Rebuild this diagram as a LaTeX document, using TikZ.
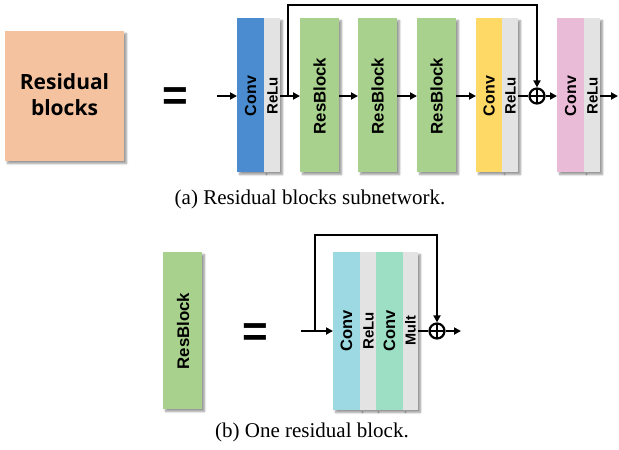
\documentclass[tikz,border=0pt]{standalone}
\usepackage{fontspec}
\setmainfont{Liberation Serif}
\newfontfamily\blkfont{Liberation Sans}
\newfontfamily\titlefont{Open Sans}
\usetikzlibrary{arrows.meta,shadows.blur}

\definecolor{cblue}{HTML}{4A8CCF}
\definecolor{cgray}{HTML}{E3E3E3}
\definecolor{cgreen}{HTML}{A8D18D}
\definecolor{cyellow}{HTML}{FFD966}
\definecolor{cpink}{HTML}{E9BBD6}
\definecolor{ccyan}{HTML}{9DD9E3}
\definecolor{cteal}{HTML}{9DDFC4}
\definecolor{cpeach}{HTML}{F4C29F}

\tikzset{
  blk/.style={draw=none, inner sep=0pt, outer sep=0pt,
    blur shadow={shadow xshift=2.5pt, shadow yshift=-2.5pt, shadow blur steps=6, shadow opacity=40}},
  vtext/.style={rotate=90, font=\blkfont\bfseries\fontsize{16}{16}\selectfont, inner sep=0pt},
  vsmall/.style={rotate=90, font=\blkfont\bfseries\fontsize{15}{15}\selectfont, inner sep=0pt},
  vbig/.style={rotate=90, font=\blkfont\bfseries\fontsize{16.8}{16.8}\selectfont, inner sep=0pt},
  flow/.style={line width=2.2pt, -{Triangle[length=7pt,width=7pt]}},
  skip/.style={line width=2.2pt},
  sumnode/.style={circle, draw, line width=2.2pt, minimum size=15pt, inner sep=0pt, fill=white,
    path picture={\draw[line width=2.2pt]
      (path picture bounding box.north) -- (path picture bounding box.south)
      (path picture bounding box.west) -- (path picture bounding box.east);}},
  eqsign/.style={font=\blkfont\bfseries\fontsize{44}{44}\selectfont, inner sep=0pt},
  caption/.style={font=\fontsize{21}{21}\selectfont, inner sep=0pt}
}

\begin{document}
\begin{tikzpicture}[x=1pt, y=-1pt]
\useasboundingbox (0,0) rectangle (619,450);

% ---------- (a) Residual blocks subnetwork ----------
\node[blk, fill=cpeach, minimum width=119pt, minimum height=130pt] (rb) at (64.5,96) {};
\node[font=\titlefont\bfseries\fontsize{21}{26}\selectfont, align=center, inner sep=0pt] (rbtxt) at (64.5,95) {Residual\\blocks};
\node[eqsign] (eqa) at (175,99) {=};

\coordinate (ina) at (217,96);

% first Conv + ReLu
\node[blk, fill=cblue, minimum width=27pt, minimum height=154pt] (c1) at (250.5,95) {};
\node[blk, fill=cgray, minimum width=16pt, minimum height=154pt] (r1) at (272,95) {};
\node[vtext] (c1t) at (250.5,96) {Conv};
\node[vsmall] (r1t) at (272.5,96) {ReLu};

% residual blocks
\node[blk, fill=cgreen, minimum width=39pt, minimum height=154pt] (b1) at (319.5,95) {};
\node[blk, fill=cgreen, minimum width=39pt, minimum height=154pt] (b2) at (377.5,95) {};
\node[blk, fill=cgreen, minimum width=39pt, minimum height=154pt] (b3) at (436.5,95) {};
\node[vbig] (b1t) at (319.5,96) {ResBlock};
\node[vbig] (b2t) at (377.5,96) {ResBlock};
\node[vbig] (b3t) at (436.5,96) {ResBlock};

% second Conv + ReLu
\node[blk, fill=cyellow, minimum width=26pt, minimum height=154pt] (c2) at (489,95) {};
\node[blk, fill=cgray, minimum width=16pt, minimum height=154pt] (r2) at (510,95) {};
\node[vtext] (c2t) at (489,96) {Conv};
\node[vsmall] (r2t) at (510.5,96) {ReLu};

\node[sumnode] (suma) at (537,96) {};

% third Conv + ReLu
\node[blk, fill=cpink, minimum width=27pt, minimum height=154pt] (c3) at (570.5,95) {};
\node[blk, fill=cgray, minimum width=16pt, minimum height=154pt] (r3) at (592,95) {};
\node[vtext] (c3t) at (570.5,96) {Conv};
\node[vsmall] (r3t) at (592.5,96) {ReLu};

\coordinate (outa) at (618,96);
\coordinate (sa) at (288,96);

\draw[flow] (ina) -- (c1.west |- ina);
\draw[flow] (r1.east |- ina) -- (b1.west |- ina);
\draw[flow] (b1.east |- ina) -- (b2.west |- ina);
\draw[flow] (b2.east |- ina) -- (b3.west |- ina);
\draw[flow] (b3.east |- ina) -- (c2.west |- ina);
\draw[skip] (r2.east |- ina) -- (suma.west);
\draw[flow] (suma.east) -- (c3.west |- ina);
\draw[flow] (r3.east |- ina) -- (outa);
\draw[flow] (sa) -- (288,5) -- (suma.north |- 0,5) -- (suma.north);

\node[caption] (capa) at (310,199) {(a) Residual blocks subnetwork.};

% ---------- (b) One residual block ----------
\node[blk, fill=cgreen, minimum width=39pt, minimum height=157pt] (rbb) at (182.5,330.5) {};
\node[vbig] (rbbt) at (183,331) {ResBlock};
\node[eqsign] (eqb) at (255,335) {=};

\node[blk, fill=ccyan, minimum width=27pt, minimum height=158pt] (d1) at (346.5,331) {};
\node[blk, fill=cgray, minimum width=16pt, minimum height=158pt] (d2) at (368,331) {};
\node[blk, fill=cteal, minimum width=27pt, minimum height=158pt] (d3) at (389.5,331) {};
\node[blk, fill=cgray, minimum width=15pt, minimum height=158pt] (d4) at (410.5,331) {};
\node[vtext, font=\blkfont\bfseries\fontsize{16.5}{16.5}\selectfont] (d1t) at (346.5,331) {Conv};
\node[vsmall] (d2t) at (368.5,331) {ReLu};
\node[vtext, font=\blkfont\bfseries\fontsize{16.5}{16.5}\selectfont] (d3t) at (389.5,331) {Conv};
\node[vsmall, font=\blkfont\bfseries\fontsize{14.5}{14.5}\selectfont] (d4t) at (410.5,331) {Mult};

\node[sumnode] (sumb) at (437,331) {};
\coordinate (inb) at (301,331);
\coordinate (sb) at (315,331);
\coordinate (outb) at (461,331);

\draw[flow] (inb) -- (d1.west |- inb);
\draw[skip] (d4.east |- inb) -- (sumb.west);
\draw[flow] (sumb.east) -- (outb);
\draw[flow] (sb) -- (315,235) -- (sumb.north |- 0,235) -- (sumb.north);

\node[caption] (capb) at (312,432) {(b) One residual block.};
\end{tikzpicture}
\end{document}
